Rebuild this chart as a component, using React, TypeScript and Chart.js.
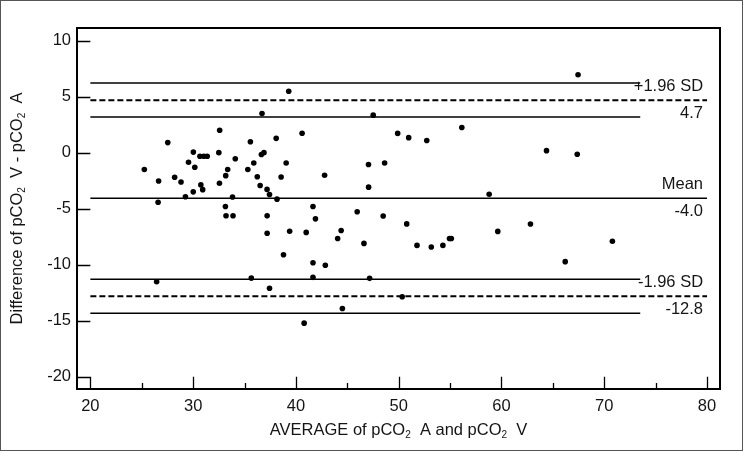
import React, { useEffect, useRef } from "react";
import { Chart, registerables } from "chart.js";

Chart.register(...registerables);

// Average of pCO2 A and pCO2 V
const avgValues = [
  25.25, 26.64, 26.59, 26.45, 27.53, 28.2, 28.82, 29.25, 29.55, 30.02,
  30.16, 30.01, 30.66, 30.75, 30.93, 31.04, 31.37, 32.58, 32.5, 32.56,
  33.17, 33.36, 33.14, 33.2, 33.88, 33.83, 34.1, 35.32, 35.57, 35.9,
  35.66, 36.24, 36.52, 36.7, 36.64, 36.89, 37.19, 37.43, 37.2, 37.2,
  37.43, 38.08, 38.16, 38.56, 38.79, 39.05, 39.3, 39.39, 40.6, 41.0,
  40.8, 41.66, 41.9, 41.66, 41.66, 42.79, 42.86, 44.06, 44.4, 44.52,
  45.96, 46.62, 47.06, 47.07, 47.17, 47.52, 48.49, 48.63, 49.9, 50.34,
  50.78, 50.97, 51.78, 52.73, 53.17, 54.3, 54.94, 55.12, 56.14, 58.8,
  59.64, 62.82, 64.38, 66.2, 67.45, 67.37, 70.79,
];
// Difference pCO2 V - pCO2 A
const diffValues = [
  -1.5, -2.53, -4.43, -11.53, 0.9, -2.2, -2.62, -3.93, -0.86, 0.05,
  -1.3, -3.5, -0.32, -2.88, -3.3, -0.32, -0.32, 2.0, 0.0, -2.73,
  -2.05, -1.5, -4.8, -5.63, -5.63, -3.96, -0.54, -1.5, 0.97, -0.92,
  -11.2, -2.15, -2.93, 3.5, -0.16, 0.0, -3.28, -3.73, -5.64, -7.2,
  -12.1, 1.28, -4.15, -2.17, -9.12, -0.92, 5.48, -7.02, 1.73, -7.12,
  -15.22, -4.8, -5.91, -9.83, -11.13, -2.02, -10.05, -7.66, -6.95, -13.91,
  -5.27, -8.1, -1.05, -3.08, -11.22, 3.35, -5.65, -0.92, 1.72, -12.87,
  -6.36, 1.34, -8.28, 1.08, -8.42, -8.28, -7.66, -7.66, 2.25, -3.71,
  -7.03, -6.37, 0.18, -9.73, 6.96, -0.14, -7.91,
];

const xTicks = [20, 30, 40, 50, 60, 70, 80];
const xMinorTicks = [25, 35, 45, 55, 65, 75];
const yTicks = [10, 5, 0, -5, -10, -15, -20];

const meanDiff = -4.07;
const upperLimit = 4.68;
const lowerLimit = -12.82;
const upperLimitCI = [3.19, 6.22];
const lowerLimitCI = [-14.34, -11.3];
const lineStart = 20;
const lineEnd = 80;
const ciLineEnd = 73.5;

const refValues = [upperLimit, meanDiff, lowerLimit];
const refLabelsAbove = ["+1.96 SD", "Mean", "-1.96 SD"];
const refLabelsBelow = ["4.7", "-4.0", "-12.8"];

const xTitle = [
  { t: "AVERAGE of pCO" },
  { t: "2", sub: true },
  { t: "  A and pCO" },
  { t: "2", sub: true },
  { t: "  V" },
];
const yTitle = [
  { t: "Difference of pCO" },
  { t: "2", sub: true },
  { t: "  V - pCO" },
  { t: "2", sub: true },
  { t: "  A" },
];

const FONT = "'Liberation Sans', Arial, sans-serif";
const TEXT = "#151515";

function hLine(y: number, x0: number, x1: number, dashed: boolean) {
  return {
    type: "scatter" as const,
    data: [
      { x: x0, y },
      { x: x1, y },
    ],
    showLine: true,
    borderColor: "#000",
    borderWidth: dashed ? 2 : 1.5,
    borderDash: dashed ? [6, 3] : [],
    pointRadius: 0,
    pointHoverRadius: 0,
    fill: false,
  };
}

function drawSegments(ctx: CanvasRenderingContext2D, segs: { t: string; sub?: boolean }[], size: number) {
  const main = `${size}px ${FONT}`;
  const small = `${Math.round(size * 0.6)}px ${FONT}`;
  let total = 0;
  for (const s of segs) {
    ctx.font = s.sub ? small : main;
    total += ctx.measureText(s.t).width;
  }
  let x = -total / 2;
  for (const s of segs) {
    ctx.font = s.sub ? small : main;
    ctx.fillText(s.t, x, s.sub ? size * 0.33 : 0);
    x += ctx.measureText(s.t).width;
  }
}

const decorPlugin = {
  id: "decor",
  afterDraw(chart: any) {
    const { ctx, chartArea, scales } = chart;
    const xs = scales.x;
    const ys = scales.y;
    ctx.save();
    // outer frame
    ctx.strokeStyle = "#555";
    ctx.lineWidth = 1;
    ctx.strokeRect(0.5, 0.5, chart.width - 1, chart.height - 1);
    // plot box
    ctx.strokeStyle = "#000";
    ctx.lineWidth = 2;
    ctx.strokeRect(chartArea.left, chartArea.top, chartArea.right - chartArea.left, chartArea.bottom - chartArea.top);
    // inner ticks
    ctx.lineWidth = 1.3;
    const x20 = xs.getPixelForValue(xTicks[0]);
    const yBase = ys.getPixelForValue(yTicks[yTicks.length - 1]);
    ctx.beginPath();
    for (const v of yTicks) {
      const py = Math.round(ys.getPixelForValue(v)) + 0.5;
      ctx.moveTo(chartArea.left, py);
      ctx.lineTo(x20, py);
    }
    for (const v of xTicks) {
      const px = Math.round(xs.getPixelForValue(v)) + 0.5;
      ctx.moveTo(px, chartArea.bottom);
      ctx.lineTo(px, yBase);
    }
    for (const v of xMinorTicks) {
      const px = Math.round(xs.getPixelForValue(v)) + 0.5;
      ctx.moveTo(px, chartArea.bottom);
      ctx.lineTo(px, chartArea.bottom - 6);
    }
    ctx.stroke();
    // reference line labels
    ctx.fillStyle = TEXT;
    ctx.font = `16.5px ${FONT}`;
    ctx.textAlign = "right";
    ctx.textBaseline = "middle";
    const lx = xs.getPixelForValue(lineEnd) - 4;
    refValues.forEach((v, i) => {
      const py = ys.getPixelForValue(v);
      ctx.fillText(refLabelsAbove[i], lx, py - 13.5);
      ctx.fillText(refLabelsBelow[i], lx, py + 13.5);
    });
    // axis titles
    ctx.textAlign = "left";
    ctx.textBaseline = "middle";
    ctx.save();
    ctx.translate((chartArea.left + chartArea.right) / 2, 430);
    drawSegments(ctx, xTitle, 16.5);
    ctx.restore();
    ctx.save();
    ctx.translate(17, (chartArea.top + chartArea.bottom) / 2);
    ctx.rotate(-Math.PI / 2);
    drawSegments(ctx, yTitle, 16.5);
    ctx.restore();
    ctx.restore();
  },
};

export default function App() {
  const ref = useRef<HTMLCanvasElement | null>(null);
  useEffect(() => {
    if (!ref.current) return;
    const points = avgValues.map((x, i) => ({ x, y: diffValues[i] }));
    const chart = new Chart(ref.current, {
      type: "scatter",
      data: {
        datasets: [
          hLine(upperLimitCI[1], lineStart, ciLineEnd, false),
          hLine(upperLimit, lineStart, lineEnd, true),
          hLine(upperLimitCI[0], lineStart, ciLineEnd, false),
          hLine(meanDiff, lineStart, lineEnd, false),
          hLine(lowerLimitCI[1], lineStart, ciLineEnd, false),
          hLine(lowerLimit, lineStart, lineEnd, true),
          hLine(lowerLimitCI[0], lineStart, ciLineEnd, false),
          {
            type: "scatter",
            data: points,
            pointRadius: 2.8,
            pointBackgroundColor: "#000",
            pointBorderWidth: 0,
            showLine: false,
          } as any,
        ] as any,
      },
      options: {
        animation: false,
        responsive: false,
        maintainAspectRatio: false,
        layout: { padding: { top: 28, right: 23, left: 0, bottom: 0 } },
        plugins: { legend: { display: false }, tooltip: { enabled: false } },
        scales: {
          x: {
            type: "linear",
            min: 18.7,
            max: 81.26,
            grid: { display: false, drawTicks: false },
            border: { display: false },
            ticks: { padding: 8, color: TEXT, font: { family: FONT, size: 16.5 }, maxRotation: 0, autoSkip: false },
            afterBuildTicks: (s: any) => {
              s.ticks = xTicks.map((v) => ({ value: v }));
            },
            afterFit: (s: any) => {
              s.height = 62;
            },
          },
          y: {
            type: "linear",
            min: -21.1,
            max: 11.13,
            grid: { display: false, drawTicks: false },
            border: { display: false },
            ticks: { padding: 6, color: TEXT, font: { family: FONT, size: 16.5 }, autoSkip: false },
            afterBuildTicks: (s: any) => {
              s.ticks = yTicks.map((v) => ({ value: v }));
            },
            afterFit: (s: any) => {
              s.width = 77;
            },
          },
        },
      } as any,
      plugins: [decorPlugin],
    });
    return () => chart.destroy();
  }, []);
  return (
    <div style={{ position: "fixed", left: 0, top: 0, width: 743, height: 451, background: "#fff" }}>
      <canvas ref={ref} width={743} height={451} style={{ width: 743, height: 451, display: "block" }} />
    </div>
  );
}
